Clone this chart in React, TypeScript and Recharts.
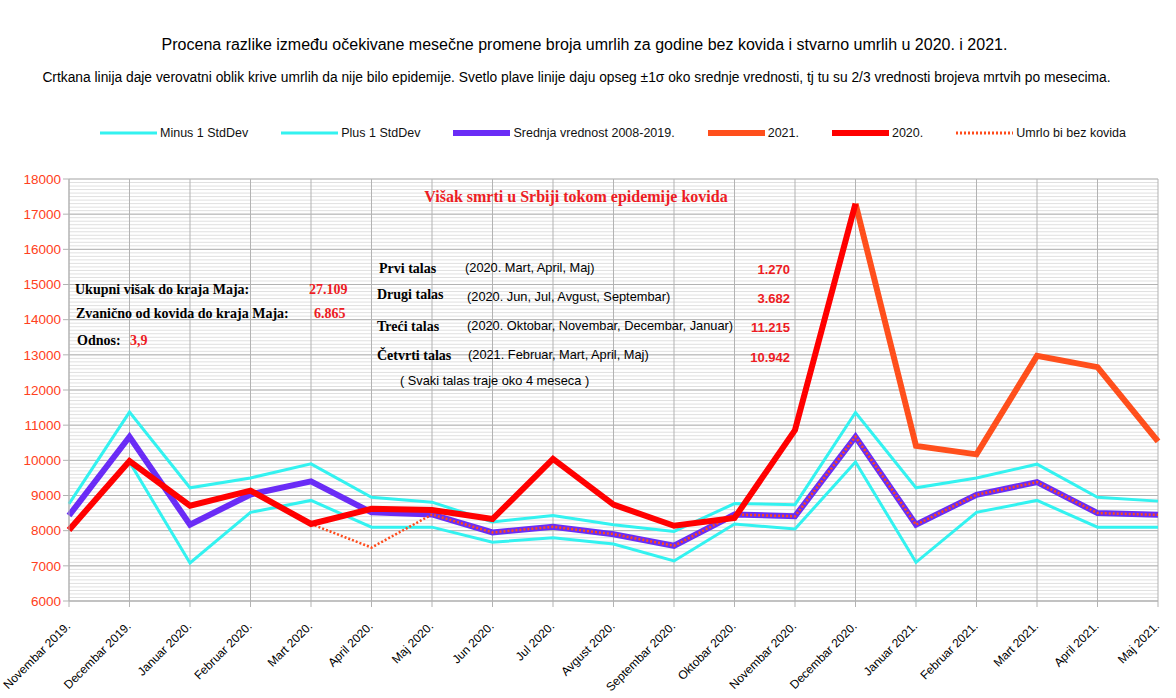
import React from "react";
import { LineChart, Line, XAxis, YAxis, CartesianGrid } from "recharts";

const months = [
  "Novembar 2019.", "Decembar 2019.", "Januar 2020.", "Februar 2020.", "Mart 2020.",
  "April 2020.", "Maj 2020.", "Jun 2020.", "Jul 2020.", "Avgust 2020.",
  "Septembar 2020.", "Oktobar 2020.", "Novembar 2020.", "Decembar 2020.", "Januar 2021.",
  "Februar 2021.", "Mart 2021.", "April 2021.", "Maj 2021.",
];

const minus1 = [8060, 9950, 7080, 8520, 8860, 8100, 8100, 7670, 7800, 7620, 7140, 8190, 8050, 9950, 7100, 8520, 8860, 8100, 8100];
const plus1 = [8760, 11370, 9220, 9500, 9900, 8950, 8810, 8250, 8430, 8170, 7980, 8770, 8740, 11360, 9220, 9500, 9890, 8950, 8840];
const mean0819 = [8430, 10670, 8170, 9030, 9400, 8520, 8460, 7950, 8110, 7900, 7570, 8460, 8410, 10670, 8170, 9020, 9380, 8500, 8450];
const deaths2020 = [8020, 9980, 8710, 9140, 8190, 8620, 8590, 8330, 10040, 8740, 8140, 8360, 10860, 17300, null, null, null, null, null];
const deaths2021 = [null, null, null, null, null, null, null, null, null, null, null, null, null, 17300, 10410, 10170, 12970, 12650, 10540];
const bezKovida = [null, null, null, null, 8190, 7520, 8460, 7950, 8110, 7900, 7570, 8460, 8410, 10670, 8170, 9020, 9380, 8500, 8450];

const yTicks = [6000, 7000, 8000, 9000, 10000, 11000, 12000, 13000, 14000, 15000, 16000, 17000, 18000];
const Y_MIN = 6000;
const Y_MAX = 18000;
const minorTicks = Array.from({ length: 121 }, (_, i) => Y_MIN + i * 100);

const data = months.map((month, i) => ({
  month,
  minus: minus1[i],
  plus: plus1[i],
  mean: mean0819[i],
  y2020: deaths2020[i],
  y2021: deaths2021[i],
  bez: bezKovida[i],
}));

const CYAN = "#33f2f0";
const PURPLE = "#6a2cf6";
const RED = "#ff0000";
const ORANGE = "#ff4f1c";
const DOTTED = "#ff4a1a";
const ANN_RED = "#ed1c24";
const SANS = "'Liberation Sans', Arial, sans-serif";
const SERIF = "'Liberation Serif', 'Times New Roman', serif";

const legendItems = [
  { label: "Minus 1 StdDev", color: CYAN, width: 3, dotted: false },
  { label: "Plus 1 StdDev", color: CYAN, width: 3, dotted: false },
  { label: "Srednja vrednost 2008-2019.", color: PURPLE, width: 6, dotted: false },
  { label: "2021.", color: ORANGE, width: 6, dotted: false },
  { label: "2020.", color: RED, width: 6, dotted: false },
  { label: "Umrlo bi bez kovida", color: DOTTED, width: 3, dotted: true },
];

// minor gridlines every 100, mapped through the y scale
const minorGrid = ({ yAxis, offset }: any) => {
  if (yAxis && typeof yAxis.scale === "function") {
    return minorTicks.map((t) => yAxis.scale(t));
  }
  return minorTicks.map(
    (t) => offset.top + (offset.height * (Y_MAX - t)) / (Y_MAX - Y_MIN)
  );
};

function MonthTick({ x, y, payload }: any) {
  return (
    <g transform={`translate(${x + 2},${y + 18}) rotate(-45)`}>
      <text x={0} y={0} textAnchor="end" fill="#000" fontSize={12} fontFamily={SANS}>
        {payload.value}
      </text>
    </g>
  );
}

function Legend() {
  return (
    <div
      style={{
        position: "absolute",
        left: 100,
        top: 126,
        height: 14,
        display: "flex",
        alignItems: "center",
        fontFamily: SANS,
        fontSize: 12.5,
        color: "#111",
        whiteSpace: "nowrap",
      }}
    >
      {legendItems.map((it) => (
        <div key={it.label} style={{ display: "flex", alignItems: "center", marginRight: 33 }}>
          <svg width={57} height={8} style={{ marginRight: 3 }}>
            <line
              x1={0}
              x2={57}
              y1={4}
              y2={4}
              stroke={it.color}
              strokeWidth={it.width}
              strokeDasharray={it.dotted ? "2 2" : undefined}
            />
          </svg>
          <span>{it.label}</span>
        </div>
      ))}
    </div>
  );
}

function Notes() {
  const bold = { fontFamily: SERIF, fontWeight: 700, fontSize: 14, fill: "#000" } as const;
  const boldRed = { ...bold, fill: ANN_RED };
  const plain = { fontFamily: SANS, fontSize: 12.8, fill: "#000" } as const;
  const num = { fontFamily: SANS, fontWeight: 700, fontSize: 13, fill: ANN_RED } as const;
  return (
    <svg
      width={1176}
      height={698}
      style={{ position: "absolute", left: 0, top: 0, pointerEvents: "none" }}
    >
      <text x={584.5} y={50} textAnchor="middle" fontFamily={SANS} fontSize={16} fill="#000">
        Procena razlike između očekivane mesečne promene broja umrlih za godine bez kovida i stvarno umrlih u 2020. i 2021.
      </text>
      <text x={576.5} y={82} textAnchor="middle" fontFamily={SANS} fontSize={13.8} fill="#000">
        Crtkana linija daje verovatni oblik krive umrlih da nije bilo epidemije. Svetlo plave linije daju opseg ±1σ oko srednje vrednosti, tj tu su 2/3 vrednosti brojeva mrtvih po mesecima.
      </text>

      <text x={576} y={202} textAnchor="middle" fontFamily={SERIF} fontWeight={700} fontSize={16} fill={ANN_RED}>
        Višak smrti u Srbiji tokom epidemije kovida
      </text>

      <text x={75} y={294} {...bold}>Ukupni višak do kraja Maja:</text>
      <text x={309} y={294} {...boldRed}>27.109</text>
      <text x={76} y={318} {...bold}>Zvanično od kovida do kraja Maja:</text>
      <text x={314} y={318} {...boldRed}>6.865</text>
      <text x={77} y={345} {...bold}>Odnos:</text>
      <text x={130} y={345} {...boldRed}>3,9</text>

      <text x={379} y={273} {...bold}>Prvi talas</text>
      <text x={465} y={271.5} {...plain}>(2020. Mart, April, Maj)</text>
      <text x={790} y={274} textAnchor="end" {...num}>1.270</text>

      <text x={377} y={299} {...bold}>Drugi talas</text>
      <text x={467} y={301} {...plain}>(2020. Jun, Jul, Avgust, Septembar)</text>
      <text x={790} y={302.5} textAnchor="end" {...num}>3.682</text>

      <text x={377} y={330.5} {...bold}>Treći talas</text>
      <text x={467} y={329.5} {...plain}>(2020. Oktobar, Novembar, Decembar, Januar)</text>
      <text x={790} y={331.5} textAnchor="end" {...num}>11.215</text>

      <text x={377} y={359.5} {...bold}>Četvrti talas</text>
      <text x={468} y={359} {...plain}>(2021. Februar, Mart, April, Maj)</text>
      <text x={790} y={361.5} textAnchor="end" {...num}>10.942</text>

      <text x={400} y={385} {...plain}>( Svaki talas traje oko 4 meseca )</text>
    </svg>
  );
}

export default function App() {
  return (
    <div
      style={{
        position: "absolute",
        left: 0,
        top: 0,
        width: 1176,
        height: 698,
        background: "#fff",
        fontFamily: SANS,
      }}
    >
      <LineChart
        width={1176}
        height={698}
        data={data}
        margin={{ top: 179, right: 18, bottom: 7, left: 9 }}
      >
        <CartesianGrid
          vertical={false}
          stroke="#e0e0e0"
          strokeWidth={1}
          horizontalCoordinatesGenerator={minorGrid}
        />
        <CartesianGrid stroke="#b3b3b3" strokeWidth={1} />
        <XAxis
          dataKey="month"
          interval={0}
          height={90}
          tick={<MonthTick />}
          tickSize={6}
          tickMargin={2}
          axisLine={{ stroke: "#b3b3b3" }}
          tickLine={{ stroke: "#b3b3b3" }}
        />
        <YAxis
          width={60}
          domain={[Y_MIN, Y_MAX]}
          ticks={yTicks}
          interval={0}
          tickSize={6}
          tickMargin={2}
          axisLine={{ stroke: "#b3b3b3" }}
          tickLine={{ stroke: "#b3b3b3" }}
          tick={{ fill: "#ff4020", fontSize: 13.5, fontFamily: SANS }}
        />
        <Line dataKey="minus" stroke={CYAN} strokeWidth={3} dot={false} activeDot={false} isAnimationActive={false} />
        <Line dataKey="plus" stroke={CYAN} strokeWidth={3} dot={false} activeDot={false} isAnimationActive={false} />
        <Line dataKey="mean" stroke={PURPLE} strokeWidth={6} dot={false} activeDot={false} isAnimationActive={false} />
        <Line dataKey="bez" stroke={DOTTED} strokeWidth={2.5} strokeDasharray="2 2" dot={false} activeDot={false} isAnimationActive={false} />
        <Line dataKey="y2021" stroke={ORANGE} strokeWidth={6} dot={false} activeDot={false} isAnimationActive={false} />
        <Line dataKey="y2020" stroke={RED} strokeWidth={6} dot={false} activeDot={false} isAnimationActive={false} />
      </LineChart>
      <Legend />
      <Notes />
    </div>
  );
}
